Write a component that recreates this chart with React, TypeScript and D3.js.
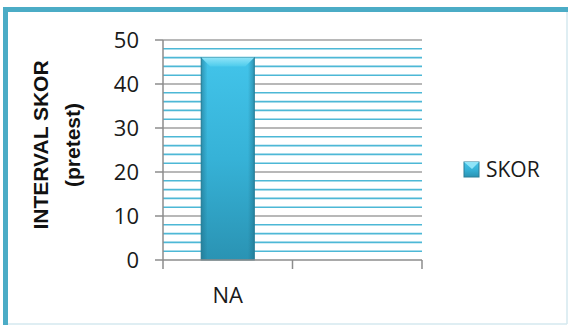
import React from "react";
import * as d3 from "d3";

const categories: string[] = ["NA", ""];
const seriesName = "SKOR";
const values: (number | null)[] = [46, null];
const yTicks: number[] = [0, 10, 20, 30, 40, 50];
const yTitle1 = "INTERVAL SKOR";
const yTitle2 = "(pretest)";

const W = 568;
const H = 326;

export default function App() {
  const left = 163;
  const right = 422;
  const top = 40;
  const bottom = 260;

  const y = d3.scaleLinear().domain([0, 50]).range([bottom, top]);
  const keys = categories.map((c, i) => c + "#" + i);
  const x = d3.scaleBand<string>().domain(keys).range([left, right]).paddingInner(0).paddingOuter(0);
  const minor = d3.range(2, 50, 2).filter((v) => v % 10 !== 0);
  const barW = x.bandwidth() * 0.41;
  const font = "'Open Sans', 'Liberation Sans', sans-serif";
  const boldFont = "'Liberation Sans', Arial, sans-serif";

  return (
    <svg width={W} height={H} style={{ position: "absolute", left: 0, top: 0 }}>
      <defs>
        <linearGradient id="barGrad" x1="0" y1="0" x2="0" y2="1">
          <stop offset="0" stopColor="#42c4ea" />
          <stop offset="0.5" stopColor="#36b2d7" />
          <stop offset="1" stopColor="#2a93b3" />
        </linearGradient>
        <linearGradient id="sideGrad" x1="0" y1="0" x2="1" y2="0">
          <stop offset="0" stopColor="#1f6f88" stopOpacity="0.55" />
          <stop offset="0.12" stopColor="#1f6f88" stopOpacity="0" />
          <stop offset="0.88" stopColor="#1f6f88" stopOpacity="0" />
          <stop offset="1" stopColor="#1f6f88" stopOpacity="0.55" />
        </linearGradient>
        <linearGradient id="capGrad" x1="0" y1="0" x2="0" y2="1">
          <stop offset="0" stopColor="#8fe4f8" />
          <stop offset="1" stopColor="#4ccbec" />
        </linearGradient>
      </defs>
      <rect x={0} y={0} width={W} height={H} fill="#ffffff" />
      {/* frame */}
      <line x1={W - 1} y1={9} x2={W - 1} y2={H - 2} stroke="#d5e8ef" strokeWidth={1.5} />
      <line x1={5} y1={H - 2} x2={W - 1} y2={H - 2} stroke="#d5e8ef" strokeWidth={1.5} />
      <path d={`M5.5,${H - 1} V9.5 H${W}`} fill="none" stroke="#4bacc6" strokeWidth={5} />

      {/* minor gridlines */}
      {minor.map((v) => (
        <line key={"m" + v} x1={left} x2={right} y1={y(v)} y2={y(v)} stroke="#4db8d6" strokeWidth={1.6} />
      ))}
      {/* major gridlines */}
      {yTicks.filter((v) => v !== 0).map((v) => (
        <line key={"g" + v} x1={left} x2={right} y1={y(v)} y2={y(v)} stroke="#a0a0a0" strokeWidth={1.5} />
      ))}

      {/* bars */}
      {values.map((v, i) => {
        if (v == null) return null;
        const cx = (x(keys[i]) as number) + x.bandwidth() / 2;
        const x0 = cx - barW / 2;
        const y0 = y(v);
        const h = bottom - y0;
        const cap = 9;
        return (
          <g key={"b" + i}>
            <rect x={x0} y={y0} width={barW} height={h} fill="url(#barGrad)" stroke="#2a7f98" strokeWidth={1} />
            <rect x={x0} y={y0} width={barW} height={h} fill="url(#sideGrad)" />
            <path d={`M${x0},${y0} H${x0 + barW} L${x0 + barW - cap},${y0 + cap} H${x0 + cap} Z`} fill="url(#capGrad)" />
          </g>
        );
      })}

      {/* y axis */}
      <line x1={left} x2={left} y1={top} y2={bottom} stroke="#8c8c8c" strokeWidth={1.5} />
      {yTicks.map((v) => (
        <g key={"t" + v}>
          <line x1={left - 8} x2={left} y1={y(v)} y2={y(v)} stroke="#8c8c8c" strokeWidth={1.5} />
          <text x={139} y={y(v)} dy="0.36em" textAnchor="end" fontFamily={font} fontSize={22} fill="#1a1a1a">
            {v}
          </text>
        </g>
      ))}
      {/* x axis */}
      <line x1={left} x2={right} y1={bottom} y2={bottom} stroke="#8c8c8c" strokeWidth={1.5} />
      {[...keys.map((k) => x(k) as number), right].map((px, i) => (
        <line key={"xt" + i} x1={px} x2={px} y1={bottom} y2={bottom + 9} stroke="#8c8c8c" strokeWidth={1.5} />
      ))}
      {categories.map((c, i) => (
        <text key={"xl" + i} x={(x(keys[i]) as number) + x.bandwidth() / 2} y={303} textAnchor="middle" fontFamily={font} fontSize={22} fill="#1a1a1a">
          {c}
        </text>
      ))}

      {/* y title */}
      <text transform="translate(48,145) rotate(-90)" textAnchor="middle" fontFamily={boldFont} fontWeight="bold" fontSize={21} fill="#111">
        {yTitle1}
      </text>
      <text transform="translate(80,145) rotate(-90)" textAnchor="middle" fontFamily={boldFont} fontWeight="bold" fontSize={21} fill="#111">
        {yTitle2}
      </text>

      {/* legend */}
      <rect x={464} y={162} width={15} height={15} fill="url(#barGrad)" stroke="#2a7f98" strokeWidth={1} />
      <path d="M464,162 H479 L472,169 Z" fill="#8fe4f8" />
      <text x={486} y={177} fontFamily={font} fontSize={21} fill="#1a1a1a">
        {seriesName}
      </text>
    </svg>
  );
}
